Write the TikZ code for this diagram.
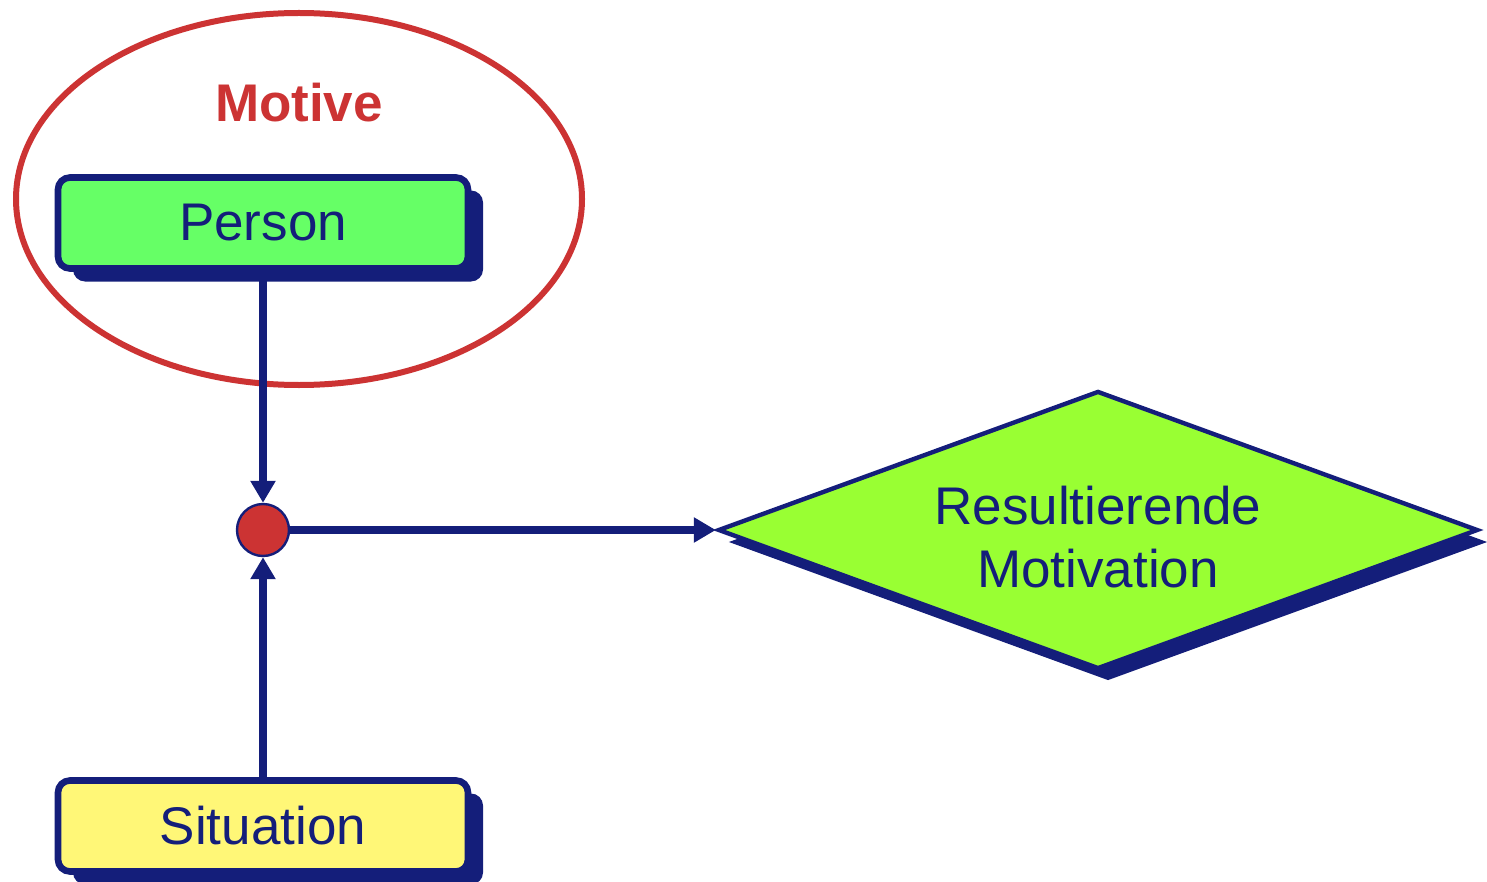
\documentclass[tikz,border=0pt]{standalone}
\usepackage{fontspec}
\setmainfont{Liberation Sans}
\usetikzlibrary{shapes.geometric,arrows.meta,shadows}
\definecolor{navyc}{RGB}{20,30,122}
\definecolor{redc}{RGB}{204,51,51}
\definecolor{greenc}{RGB}{102,255,102}
\definecolor{yellowc}{RGB}{255,247,119}
\definecolor{limec}{RGB}{153,255,51}
\tikzset{
  boxnode/.style={draw=navyc, line width=3.3pt, rounded corners=6pt, minimum width=205pt, minimum height=45.5pt, inner sep=0pt, text=navyc, font=\fontsize{26.5}{31.5}\selectfont, drop shadow={shadow xshift=7.5pt, shadow yshift=-6.5pt, fill=navyc, opacity=1}},
  link/.style={draw=navyc, line width=4pt, -{Triangle[length=11pt,width=12pt]}}
}
\begin{document}
\begin{tikzpicture}[x=0.5pt,y=-0.5pt]
\useasboundingbox (0,0) rectangle (1487,882);
\node[draw=redc, line width=3pt, ellipse, minimum width=283pt, minimum height=186pt, inner sep=0pt] (motive) at (299,199) {};
\node[text=redc, font=\fontsize{26.5}{31.5}\selectfont\bfseries] (motivelabel) at (299,103) {Motive};
\node[boxnode, fill=greenc] (person) at (263,223) {Person};
\node[boxnode, fill=yellowc] (situation) at (263,826) {Situation};
\node[circle, draw=navyc, line width=1.2pt, fill=redc, minimum size=26pt, inner sep=0pt] (dot) at (263,530) {};
\node[diamond, aspect=2.73, draw=navyc, line width=2.2pt, fill=limec, minimum width=380pt, minimum height=139pt, inner sep=0pt, drop shadow={shadow xshift=5pt, shadow yshift=-6pt, fill=navyc, opacity=1}] (result) at (1098,530) {};
\node[align=center, text=navyc, font=\fontsize{26.5}{31.5}\selectfont, inner sep=0pt] (resulttext) at (1098,537) {Resultierende\\Motivation};
\draw[link] (person.south) -- (dot.north);
\draw[link] (situation.north) -- (dot.south);
\draw[link] (dot.east) -- (result.west);
\end{tikzpicture}
\end{document}
